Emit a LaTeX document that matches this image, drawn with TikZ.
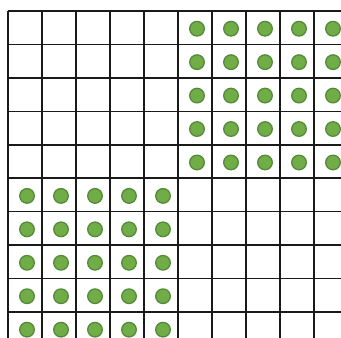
\documentclass[tikz,border=0pt]{standalone}
\definecolor{dotfill}{HTML}{70AD47}
\definecolor{dotline}{HTML}{548A3A}
\definecolor{gridcol}{HTML}{1A1A1A}
\begin{document}
\begin{tikzpicture}[x=1pt,y=-1pt,
  gridline/.style={line width=1.6pt, draw=gridcol},
  gdot/.style={fill=dotfill, draw=dotline, line width=1.3pt}]
\useasboundingbox (0,0) rectangle (341,338);
\clip (0,0) rectangle (341,338);
\fill[white] (0,0) rectangle (341,338);
\foreach \i in {0,...,10} {
  \draw[gridline] ({8+34*\i},11) -- ({8+34*\i},350);
}
\foreach \j in {0,...,10} {
  \draw[gridline] (8,{11+33.44*\j}) -- (350,{11+33.44*\j});
}
% top-right block
\foreach \c in {5,...,9} {
  \foreach \r in {0,...,4} {
    \draw[gdot] ({27+34*\c},{28.7+33.44*\r}) circle (7.3);
  }
}
% bottom-left block
\foreach \c in {0,...,4} {
  \foreach \r in {5,...,9} {
    \draw[gdot] ({27+34*\c},{28.7+33.44*\r}) circle (7.3);
  }
}
\end{tikzpicture}
\end{document}
